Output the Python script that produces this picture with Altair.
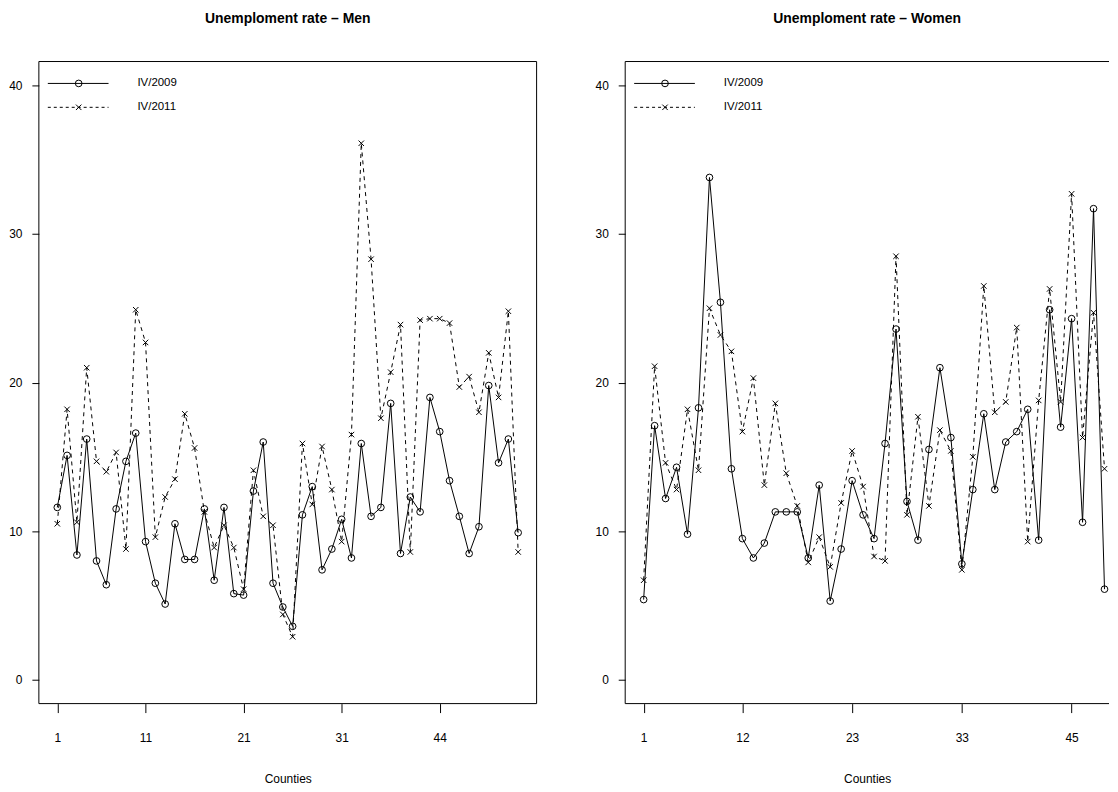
import altair as alt
import pandas as pd

# ---- data ----
men_2009 = [11.6, 15.1, 8.4, 16.2, 8.0, 6.4, 11.5, 14.7, 16.6, 9.3,
            6.5, 5.1, 10.5, 8.1, 8.1, 11.5, 6.7, 11.6, 5.8, 5.7,
            12.7, 16.0, 6.5, 4.9, 3.6, 11.1, 13.0, 7.4, 8.8, 10.8,
            8.2, 15.9, 11.0, 11.6, 18.6, 8.5, 12.3, 11.3, 19.0, 16.7,
            13.4, 11.0, 8.5, 10.3, 19.8, 14.6, 16.2, 9.9]
men_2011 = [10.5, 18.2, 10.6, 21.0, 14.7, 14.0, 15.3, 8.8, 24.9, 22.7,
            9.6, 12.3, 13.5, 17.9, 15.6, 11.3, 8.9, 10.4, 8.9, 6.1,
            14.1, 11.0, 10.4, 4.4, 2.9, 15.9, 11.8, 15.7, 12.8, 9.3,
            16.5, 36.1, 28.3, 17.6, 20.7, 23.9, 8.6, 24.2, 24.3, 24.3,
            24.0, 19.7, 20.4, 18.0, 22.0, 19.0, 24.8, 8.6]
women_2009 = [5.4, 17.1, 12.2, 14.3, 9.8, 18.3, 33.8, 25.4, 14.2, 9.5,
              8.2, 9.2, 11.3, 11.3, 11.3, 8.2, 13.1, 5.3, 8.8, 13.4,
              11.1, 9.5, 15.9, 23.6, 12.0, 9.4, 15.5, 21.0, 16.3, 7.8,
              12.8, 17.9, 12.8, 16.0, 16.7, 18.2, 9.4, 24.9, 17.0, 24.3,
              10.6, 31.7, 6.1]
women_2011 = [6.7, 21.1, 14.6, 12.8, 18.2, 14.1, 25.0, 23.2, 22.1, 16.7,
              20.3, 13.1, 18.6, 13.9, 11.7, 7.9, 9.6, 7.6, 11.9, 15.4,
              13.0, 8.3, 8.0, 28.5, 11.1, 17.7, 11.7, 16.8, 15.4, 7.4,
              15.0, 26.5, 18.0, 18.7, 23.7, 9.3, 18.8, 26.3, 18.7, 32.7,
              16.3, 24.7, 14.2]

men_tick_pos = [1, 10, 20, 30, 40]
men_tick_labels = ["1", "11", "21", "31", "44"]
women_tick_pos = [1, 10, 20, 30, 40]
women_tick_labels = ["1", "12", "23", "33", "45"]
y_ticks = [0, 10, 20, 30, 40]
series_names = ["IV/2009", "IV/2011"]

FONT = "Liberation Sans, Arial, sans-serif"
CROSS = "M-1,-1L1,1M-1,1L1,-1"
H = 645


def label_expr(pos, labels):
    expr = "''"
    for p, l in reversed(list(zip(pos, labels))):
        expr = f"datum.value == {p} ? '{l}' : ({expr})"
    return expr


def panel(v09, v11, tick_pos, tick_labels, title, width, right_border):
    n = len(v09)
    idx = list(range(1, n + 1))
    d09 = pd.DataFrame({"idx": idx, "value": v09})
    d11 = pd.DataFrame({"idx": idx, "value": v11})
    pad = 0.04 * (n - 1)
    full = (n - 1) + 2 * pad
    hi = (1 - pad) + full * width / 500.0
    xs = alt.Scale(domain=[1 - pad, hi], nice=False, zero=False)
    ys = alt.Scale(domain=[-1.6, 41.6], nice=False, zero=False)
    x = alt.X("idx:Q", scale=xs, axis=alt.Axis(
        values=tick_pos, labelExpr=label_expr(tick_pos, tick_labels),
        title="Counties", grid=False, domain=False, tickSize=9,
        tickColor="black", labelPadding=20, labelFontSize=12, labelFont=FONT,
        labelColor="black", titleFont=FONT, titleFontSize=12,
        titleFontWeight="normal", titleColor="black", titlePadding=30))
    y = alt.Y("value:Q", scale=ys, axis=alt.Axis(
        values=y_ticks, title=None, grid=False, domain=False, tickSize=7,
        tickColor="black", labelPadding=10, labelFontSize=12, labelFont=FONT,
        labelColor="black"))

    l09 = alt.Chart(d09).mark_line(color="black", strokeWidth=1).encode(x=x, y=y)
    p09 = alt.Chart(d09).mark_point(shape="circle", size=45, filled=False,
                                    color="black", strokeWidth=1, opacity=1).encode(x=x, y=y)
    l11 = alt.Chart(d11).mark_line(color="black", strokeWidth=1,
                                   strokeDash=[4, 4]).encode(x=x, y=y)
    p11 = alt.Chart(d11).mark_point(shape=CROSS, size=30, filled=False,
                                    color="black", strokeWidth=1, opacity=1).encode(x=x, y=y)

    one = pd.DataFrame({"k": [0]})
    borders = [
        alt.Chart(one).mark_rule(color="black", strokeWidth=1).encode(
            x=alt.value(0), x2=alt.value(width), y=alt.value(0)),
        alt.Chart(one).mark_rule(color="black", strokeWidth=1).encode(
            x=alt.value(0), x2=alt.value(width), y=alt.value(H)),
        alt.Chart(one).mark_rule(color="black", strokeWidth=1).encode(
            x=alt.value(0), y=alt.value(0), y2=alt.value(H)),
    ]
    if right_border:
        borders.append(alt.Chart(one).mark_rule(color="black", strokeWidth=1).encode(
            x=alt.value(width), y=alt.value(0), y2=alt.value(H)))

    leg = [
        alt.Chart(one).mark_rule(color="black", strokeWidth=1).encode(
            x=alt.value(9), x2=alt.value(70), y=alt.value(22)),
        alt.Chart(one).mark_point(shape="circle", size=45, filled=False, color="black",
                                  opacity=1, strokeWidth=1).encode(
            x=alt.value(40), y=alt.value(22)),
        alt.Chart(one).mark_text(text=series_names[0], align="left", baseline="middle",
                                 font=FONT, fontSize=11.5, color="black").encode(
            x=alt.value(99), y=alt.value(22)),
        alt.Chart(one).mark_rule(color="black", strokeWidth=1, strokeDash=[3, 3]).encode(
            x=alt.value(9), x2=alt.value(70), y=alt.value(46)),
        alt.Chart(one).mark_point(shape=CROSS, size=30, filled=False, color="black",
                                  opacity=1, strokeWidth=1).encode(
            x=alt.value(40), y=alt.value(46)),
        alt.Chart(one).mark_text(text=series_names[1], align="left", baseline="middle",
                                 font=FONT, fontSize=11.5, color="black").encode(
            x=alt.value(99), y=alt.value(46)),
    ]

    return alt.layer(l11, l09, p11, p09, *borders, *leg).properties(
        width=width, height=H,
        title=alt.TitleParams(title, font=FONT, fontSize=14, fontWeight="bold",
                              color="black", anchor="middle", offset=35))


left = panel(men_2009, men_2011, men_tick_pos, men_tick_labels,
             "Unemploment rate – Men", 500, True)
right = panel(women_2009, women_2011, women_tick_pos, women_tick_labels,
              "Unemploment rate – Women", 486, False)

chart = alt.hconcat(left, right, spacing=57).properties(
    padding={"left": 0, "top": 2, "right": 0, "bottom": 0}
).configure_view(stroke=None)

chart.save("out.html", embed_options={"renderer": "svg", "actions": False})
